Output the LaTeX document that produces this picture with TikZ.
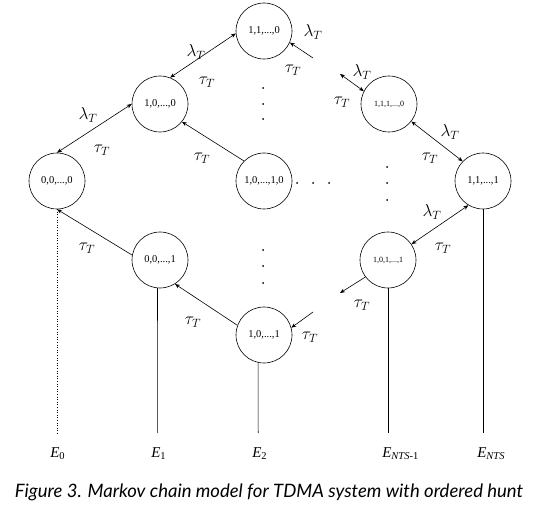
\documentclass[tikz,border=0pt]{standalone}
\usepackage{fontspec}
\setmainfont{Liberation Serif}
\newfontfamily\capfont{Lato}
\usepackage{tikz}
\usetikzlibrary{arrows.meta, positioning, calc}

\begin{document}
\begin{tikzpicture}[x=1pt, y=-1pt, >={Stealth[length=5pt,width=4pt]}, line width=0.6pt,
  state/.style={draw, circle, minimum size=56pt, inner sep=0pt, font=\fontsize{10.5}{12}\selectfont},
  tinystate/.style={state, font=\fontsize{8}{9}\selectfont},
  rate/.style={inner sep=0pt, font=\fontsize{17}{19}\selectfont},
  elabel/.style={anchor=base west, inner sep=0pt, font=\fontsize{15}{17}\selectfont}]
  \useasboundingbox (0,0) rectangle (536,508);

  % States
  \node[state] (s000) at (57,181) {0,0,...,0};
  \node[state] (s100) at (160,104) {1,0,...,0};
  \node[state] (s110) at (264,31) {1,1,...,0};
  \node[state] (s1010) at (264,181) {1,0,...,1,0};
  \node[tinystate] (s1110) at (389,104) {1,1,1,...,0};
  \node[state] (s111) at (483,181) {1,1,...,1};
  \node[state] (s001) at (160,260) {0,0,...,1};
  \node[state] (s101) at (264,335) {1,0,...,1};
  \node[tinystate] (s1011) at (388,260) {1,0,1,...,1};

  % Free ends
  \coordinate (c1) at (313,58);
  \coordinate (c2) at (340,74);
  \coordinate (c3) at (340,293);
  \coordinate (c4) at (313,312);

  % Upper chain
  \draw[<->] (s000.north) -- (s100.west);
  \draw[<->] (s100.69) -- (s110.185);
  \draw[->] (s1010.135) -- (s100.-39);
  \draw[<-] (s110.-24) -- (c1);
  \draw[<->] (c2) -- (s1110.153);
  \draw[<->] (s1110.-38) -- (s111.136);
  \draw[<->] (s111.-121) -- (s1011.34);

  % Lower chain
  \draw[->] (s1011.217) -- (c3);
  \draw[->] (c4) -- (s101.15);
  \draw[->] (s101.160) -- (s001.-58);
  \draw[->] (s001.170) -- (s000.south);

  % Rates
  \node[rate] (l1) at (88,115) {$\lambda_T$};
  \node[rate] (t1) at (102,150) {$\tau_T$};
  \node[rate] (l2) at (196,52) {$\lambda_T$};
  \node[rate] (t2) at (207,82) {$\tau_T$};
  \node[rate] (t3) at (202,158) {$\tau_T$};
  \node[rate] (l4) at (313,32) {$\lambda_T$};
  \node[rate] (t4) at (293,70) {$\tau_T$};
  \node[rate] (l5) at (362,72) {$\lambda_T$};
  \node[rate] (t5) at (342,102) {$\tau_T$};
  \node[rate] (l6) at (450,132) {$\lambda_T$};
  \node[rate] (t6) at (430,158) {$\tau_T$};
  \node[rate] (l7) at (432,212) {$\lambda_T$};
  \node[rate] (t7) at (443,248) {$\tau_T$};
  \node[rate] (t8) at (362,305) {$\tau_T$};
  \node[rate] (t9) at (310,337) {$\tau_T$};
  \node[rate] (t10) at (193,322) {$\tau_T$};
  \node[rate] (t11) at (87,248) {$\tau_T$};

  % Dots
  \foreach \x/\y in {263/88, 263/104, 263/119, 297/183, 313/183, 329/183,
                     387/167, 387/183, 387/200, 263/250, 263/266, 263/283}
    \fill (\x,\y) circle (1pt);

  % Energy levels
  \coordinate (b0) at (57,433);
  \coordinate (b1) at (157.6,433);
  \coordinate (b2) at (258.2,433);
  \coordinate (b3) at (388,433);
  \coordinate (b4) at (483,433);
  \draw[dotted] (s000.south) -- (b0);
  \draw (s001.265) -- (b1);
  \draw (s101.258) -- (b2);
  \draw (s1011.south) -- (b3);
  \draw (s111.south) -- (b4);
  \node[elabel] (e0) at (50,457) {\textit{E}\textsubscript{0}};
  \node[elabel] (e1) at (151,457) {\textit{E}\textsubscript{1}};
  \node[elabel] (e2) at (252,457) {\textit{E}\textsubscript{2}};
  \node[elabel] (e3) at (382,457) {\textit{E}\textsubscript{\textit{NTS}-1}};
  \node[elabel] (e4) at (477,457) {\textit{E}\textsubscript{\textit{NTS}}};

  % Caption
  \node[font=\capfont\itshape\fontsize{18.5}{21}\selectfont, inner sep=0pt] (cap) at (269,492)
    {Figure 3. Markov chain model for TDMA system with ordered hunt};
\end{tikzpicture}
\end{document}
